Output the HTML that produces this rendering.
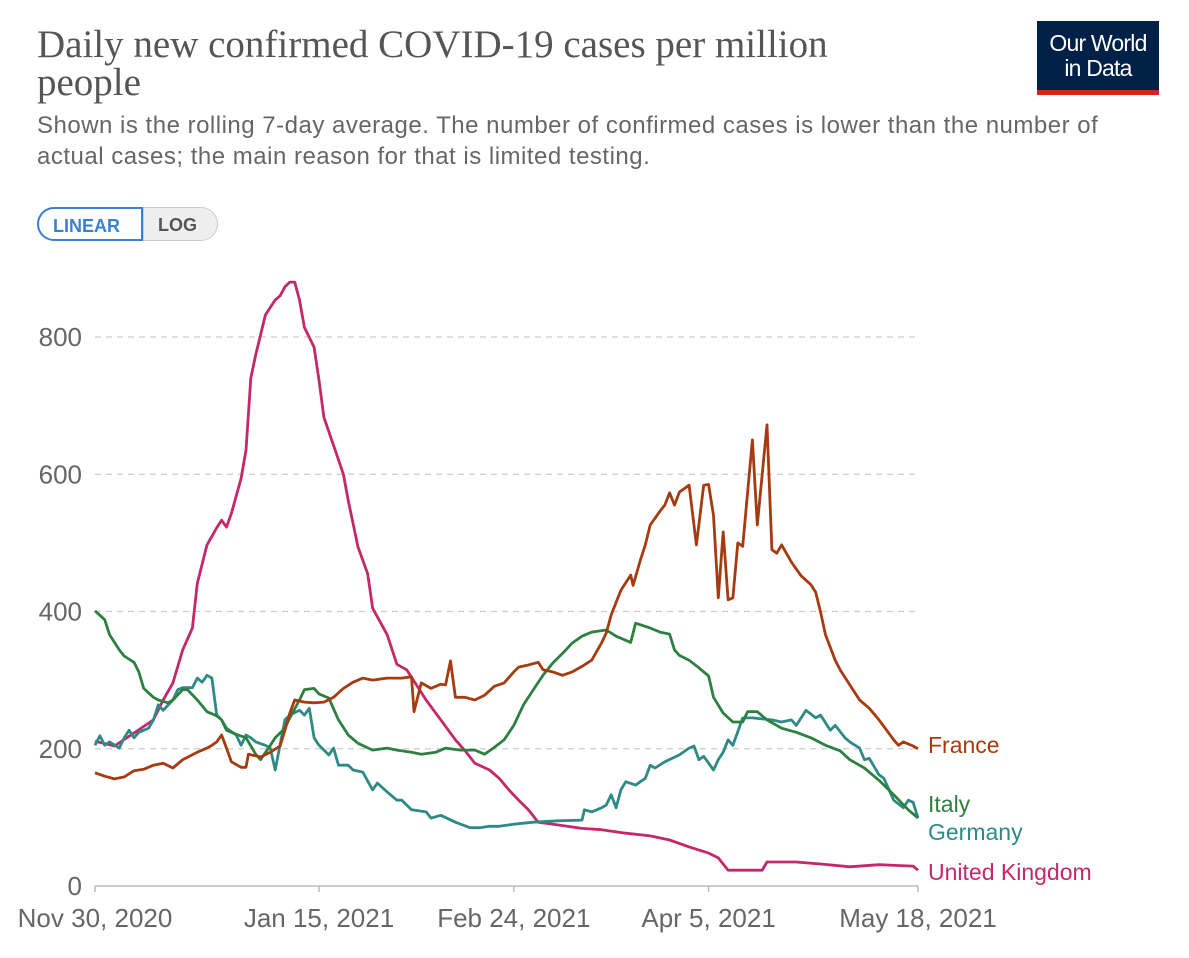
<!DOCTYPE html>
<html><head><meta charset="utf-8">
<style>
body{margin:0;background:#fff;width:1189px;height:958px;overflow:hidden;font-family:"Liberation Sans",sans-serif;}
.title{position:absolute;left:37px;top:26px;font-family:"Liberation Serif",serif;font-size:39px;line-height:38px;color:#555;width:880px;}
.sub{position:absolute;left:37px;top:110px;font-size:24px;letter-spacing:0.5px;line-height:31px;color:#666;width:1150px;}
.logo{position:absolute;left:1037px;top:21px;width:122px;height:74px;background:#002147;color:#fff;font-size:23px;line-height:25px;text-align:center;box-sizing:border-box;padding-top:10px;border-bottom:5px solid #ce261e;letter-spacing:-0.8px}
.btns{position:absolute;left:37px;top:207px;display:flex;}
.btn{height:34px;line-height:34px;font-size:18px;font-weight:bold;padding:0 14px;box-sizing:border-box;}
</style></head><body>
<div class="title">Daily new confirmed COVID-19 cases per million people</div>
<div class="sub">Shown is the rolling 7-day average. The number of confirmed cases is lower than the number of<br>actual cases; the main reason for that is limited testing.</div>
<div class="logo">Our World<br>in Data</div>
<div class="btns">
<div class="btn" style="border:2px solid #3a7fd0;color:#3a7fd0;border-radius:17px 0 0 17px;width:106px;">LINEAR</div>
<div class="btn" style="border:1px solid #ccc;background:#eee;color:#555;border-radius:0 17px 17px 0;width:75px;">LOG</div>
</div>
<svg id="chart" width="1189" height="958" style="position:absolute;left:0;top:0"></svg>
<script>
const yTicks=[0,200,400,600,800];
const xTickDays=[0,46,86,126,169];
const xTickLabels=["Nov 30, 2020","Jan 15, 2021","Feb 24, 2021","Apr 5, 2021","May 18, 2021"];
const seriesNames=["France","Italy","Germany","United Kingdom"];
const ukDays=[0,4,8,12,14,16,18,20,21,23,25,26,27,28,30,31,32,33,35,37,38,39,40,41,42,43,45,46,47,49,51,52,54,56,57,60,62,64,66,68,71,74,76,78,81,83,85,87,89,91,95,100,104,109,114,118,122,126,128,130,137,138,144,149,155,161,168,169];
const ukVals=[211,204,223,242,271,296,344,376,441,497,522,533,523,543,594,635,740,774,832,854,860,873,880,880,854,814,785,737,683,642,600,562,494,455,405,366,323,315,293,271,242,213,197,179,169,157,140,125,111,93,89,84,82,77,73,67,57,48,41,23,23,35,35,32,28,31,29,23];
const frDays=[0,2,4,6,8,10,12,14,16,18,21,23,24,25,26,27,28,30,31,31.5,34,36,38,39,40,41,43,45,47,49,51,53,55,57,60,63,65,65.5,67,69,71,72,73,74,76,78,80,82,84,86,87,89,91,92,94,96,98,100,102,104,105,106,108,110,110.5,112,113,114,116,117,118,119,120,122,123.5,125,126,127,128,129,130,131,132,133,135,136,138,139,140,141,143,145,147,148,149,150,152,153,155,157,159,161,164,165,166,168,169];
const frVals=[165,160,156,159,168,170,176,179,172,184,195,201,205,210,220,201,181,173,173,192,188,195,204,227,252,271,268,267,268,275,288,297,303,300,303,303,305,254,296,288,294,293,328,275,275,271,278,291,296,312,319,322,326,315,312,307,312,320,329,354,369,395,431,453,438,475,497,526,546,555,573,555,574,584,497,584,585,540,420,516,417,420,500,495,650,526,672,490,485,497,472,452,439,428,399,366,329,315,293,271,259,242,213,205,210,204,200];
const itDays=[0,2,3,5,6,8,9,10,12,13,15,16,18,19,21,23,25,26,27,29,31,33,34,36,37,39,40,42,43,45,46,48,50,52,54,57,60,62,65,67,70,72,75,78,80,82,84,86,88,90,92,94,96,98,100,102,105,107,110,111,114,116,118,119,120,122,124,126,127,129,131,133,134,136,138,141,144,147,150,153,155,158,161,164,167,169];
const itVals=[401,388,366,344,335,326,312,288,275,271,267,271,286,286,271,254,248,242,227,221,216,192,184,205,216,230,245,271,286,288,280,274,242,220,208,198,201,198,195,192,195,201,198,198,192,202,213,234,264,286,307,325,339,354,364,370,373,364,355,383,376,370,367,344,336,329,318,306,275,252,239,239,254,254,242,230,224,216,205,197,184,172,154,133,111,99];
const deDays=[0,1,2,3,5,6,7,8,9,11,12,13,14,16,17,18,20,21,22,23,24,25,26,27,29,30,31,32,33,35,36,37,39,40,42,43,44,45,46,48,49,50,52,53,55,57,58,60,62,63,65,68,69,71,74,77,79,81,83,86,90,95,100,100.5,102,104,105,106,107,108,109,111,113,114,115,117,120,122,123,124,125,127,128,129,130,131,133,135,139,141,143,144,146,148,149,151,152,154,155,157,158,159,161,162,164,166,167,168,169];
const deVals=[205,219,205,210,201,216,227,216,224,230,242,264,256,271,286,289,289,303,297,307,303,249,242,230,220,205,220,216,210,205,201,169,242,249,256,249,259,216,205,191,201,176,176,169,166,140,150,137,125,125,111,108,99,103,93,85,85,87,87,90,93,95,96,111,108,114,118,133,114,140,152,147,157,176,172,181,191,201,204,184,189,169,184,195,213,205,245,245,242,239,242,234,256,245,249,227,234,216,210,201,184,186,162,157,125,114,125,122,99];

const NS="http://www.w3.org/2000/svg";
const svg=document.getElementById('chart');
const X0=95,X1=918,Y0=886,Y800=337,DAYS=169;
function xs(d){return X0+(X1-X0)*d/DAYS;}
function ys(v){return Y0-(Y0-Y800)*v/800;}
function mk(tag,attrs){const e=document.createElementNS(NS,tag);for(const k in attrs)e.setAttribute(k,attrs[k]);svg.appendChild(e);return e;}
yTicks.forEach(function(t){
  if(t>0){const g=mk('line',{x1:X0,x2:X1,y1:ys(t),y2:ys(t),stroke:'#ccc','stroke-dasharray':'6,5','stroke-width':1.3});
  
  }
  const tx=mk('text',{x:82,y:ys(t)+9,'text-anchor':'end','font-size':26,fill:'#666','font-family':'Liberation Sans, sans-serif'});
  tx.textContent=t;
  
  
});
const ax=mk('line',{x1:X0,x2:X1,y1:Y0,y2:Y0,stroke:'#bbb','stroke-width':1.5});


xTickDays.forEach(function(d,i){
  const tk=mk('line',{x1:xs(d),x2:xs(d),y1:Y0,y2:Y0+6,stroke:'#bbb','stroke-width':1.5});
  
  
  const tx=mk('text',{x:xs(d),y:927,'text-anchor':'middle','font-size':26,fill:'#666','font-family':'Liberation Sans, sans-serif'});
  tx.textContent=xTickLabels[i];
  
  
});
const colors=['#A63A10','#2E8040','#2E8A86','#C2286A'];
const allDays=[frDays,itDays,deDays,ukDays];
const allVals=[frVals,itVals,deVals,ukVals];
const labelY=[745,804,832,872];
[3,2,1,0].forEach(function(i){
  const pts=allDays[i].map(function(d,j){return xs(d).toFixed(1)+','+ys(allVals[i][j]).toFixed(1);}).join(' ');
  const p=mk('polyline',{points:pts,fill:'none',stroke:colors[i],'stroke-width':2.8,'stroke-linejoin':'round'});
  
  
  const l=mk('text',{x:928,y:labelY[i]+8,'font-size':23,fill:colors[i],'font-family':'Liberation Sans, sans-serif'});
  l.textContent=seriesNames[i];
  
  
});
</script>
</body></html>
